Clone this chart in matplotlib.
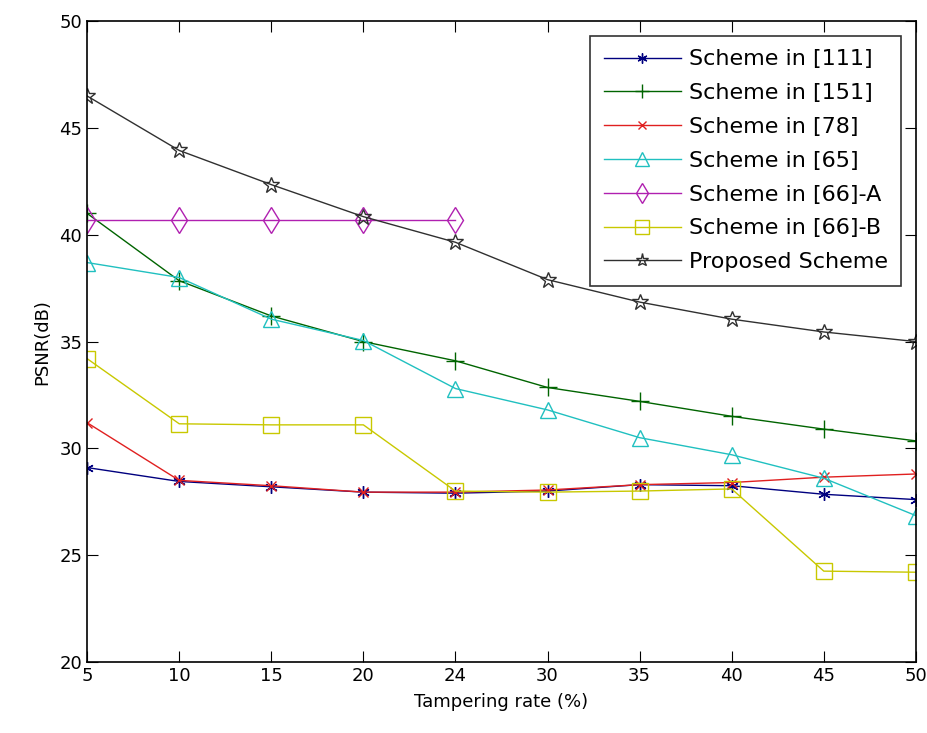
import matplotlib
matplotlib.use('Agg')
import matplotlib.pyplot as plt

rates = ['5', '10', '15', '20', '24', '30', '35', '40', '45', '50']
x = range(len(rates))

s111 = [29.1, 28.45, 28.2, 27.95, 27.9, 28.0, 28.3, 28.25, 27.85, 27.6]
s151 = [41.0, 37.85, 36.2, 35.0, 34.1, 32.85, 32.2, 31.5, 30.9, 30.35]
s78 = [31.2, 28.5, 28.25, 27.95, 27.95, 28.05, 28.3, 28.4, 28.65, 28.8]
s65 = [38.7, 38.0, 36.05, 35.05, 32.8, 31.8, 30.5, 29.7, 28.6, 26.85]
s66a = [40.7, 40.7, 40.7, 40.7, 40.7]
s66b = [34.2, 31.15, 31.1, 31.1, 28.0, 27.95, 28.0, 28.1, 24.25, 24.2]
proposed = [46.5, 43.95, 42.35, 40.85, 39.65, 37.9, 36.85, 36.05, 35.45, 35.0]

fig = plt.figure(figsize=(9.27, 7.33), dpi=100)
ax = fig.add_axes([0.094, 0.097, 0.894, 0.874])

lw = 1.0
ax.plot(x, s111, color='#00007f', marker=(6, 2, 0), ms=9, lw=lw, label='Scheme in [111]')
ax.plot(x, s151, color='#006400', marker='+', ms=13, lw=lw, label='Scheme in [151]')
ax.plot(x, s78, color='#e02020', marker='x', ms=7, lw=lw, label='Scheme in [78]')
ax.plot(x, s65, color='#20c0c0', marker='^', ms=12, mfc='none', lw=lw, label='Scheme in [65]')
ax.plot(range(len(s66a)), s66a, color='#b020b0', marker='d', ms=13, mfc='none', lw=lw,
        label='Scheme in [66]-A')
ax.plot(x, s66b, color='#c8c800', marker='s', ms=12, mfc='none', lw=lw, label='Scheme in [66]-B')
ax.plot(x, proposed, color='#303030', marker='*', ms=12, mfc='none', lw=lw, label='Proposed Scheme')

ax.set_xlim(0, 9)
ax.set_ylim(20, 50)
ax.set_xticks(list(x))
ax.set_xticklabels(rates)
ax.set_yticks(range(20, 51, 5))
ax.tick_params(direction='in', length=8, top=True, right=True, labelsize=13)
for sp in ax.spines.values():
    sp.set_linewidth(1.2)

ax.set_xlabel('Tampering rate (%)', fontsize=13, labelpad=6)
ax.set_ylabel('PSNR(dB)', fontsize=13, labelpad=6)

leg = ax.legend(loc='upper right', fontsize=16, frameon=True, fancybox=False,
                edgecolor='black', labelspacing=0.62, handlelength=3.45,
                handletextpad=0.36, borderpad=0.62, borderaxespad=0.65,
                markerscale=0.8)
leg.get_frame().set_linewidth(1.2)

fig.savefig('out.png', dpi=100)
